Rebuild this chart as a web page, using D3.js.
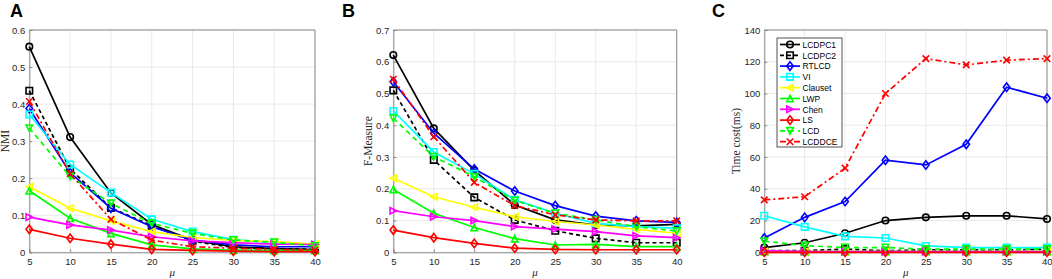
<!DOCTYPE html>
<html>
<head>
<meta charset="utf-8">
<script src="https://cdn.jsdelivr.net/npm/d3@7"></script>
<style>
body { margin: 0; background: #fff; }
svg { display: block; }
</style>
</head>
<body>
<svg id="chart" width="1052" height="279"></svg>
<script>
// mu values on the x axis
var mu = [5, 10, 15, 20, 25, 30, 35, 40];

var methods = ["LCDPC1", "LCDPC2", "RTLCD", "VI", "Clauset", "LWP", "Chen", "LS", "LCD", "LCDDCE"];

// panel A: NMI
var nmiLCDPC1 = [0.555, 0.311, 0.16, 0.075, 0.033, 0.015, 0.010, 0.007];
var nmiLCDPC2 = [0.436, 0.225, 0.12, 0.072, 0.030, 0.013, 0.010, 0.008];
var nmiRTLCD  = [0.388, 0.215, 0.119, 0.069, 0.033, 0.020, 0.015, 0.015];
var nmiVI     = [0.372, 0.237, 0.161, 0.089, 0.056, 0.034, 0.026, 0.020];
var nmiClauset= [0.177, 0.119, 0.085, 0.056, 0.040, 0.032, 0.029, 0.022];
var nmiLWP    = [0.166, 0.092, 0.051, 0.020, 0.009, 0.006, 0.005, 0.005];
var nmiChen   = [0.095, 0.074, 0.060, 0.042, 0.031, 0.026, 0.022, 0.021];
var nmiLS     = [0.062, 0.038, 0.022, 0.008, 0.005, 0.003, 0.002, 0.002];
var nmiLCD    = [0.335, 0.205, 0.132, 0.078, 0.051, 0.033, 0.027, 0.017];
var nmiLCDDCE = [0.407, 0.212, 0.089, 0.033, 0.015, 0.011, 0.008, 0.006];

// panel B: F-Measure
var fmLCDPC1 = [0.621, 0.390, 0.258, 0.149, 0.102, 0.086, 0.083, 0.088];
var fmLCDPC2 = [0.510, 0.291, 0.173, 0.102, 0.068, 0.044, 0.030, 0.030];
var fmRTLCD  = [0.537, 0.375, 0.262, 0.193, 0.147, 0.114, 0.099, 0.094];
var fmVI     = [0.445, 0.316, 0.247, 0.165, 0.123, 0.091, 0.081, 0.076];
var fmClauset= [0.233, 0.175, 0.142, 0.112, 0.097, 0.086, 0.072, 0.060];
var fmLWP    = [0.198, 0.123, 0.078, 0.043, 0.023, 0.025, 0.018, 0.018];
var fmChen   = [0.131, 0.112, 0.100, 0.081, 0.073, 0.065, 0.052, 0.046];
var fmLS     = [0.070, 0.046, 0.028, 0.013, 0.009, 0.008, 0.008, 0.008];
var fmLCD    = [0.422, 0.301, 0.238, 0.163, 0.123, 0.102, 0.081, 0.067];
var fmLCDDCE = [0.545, 0.364, 0.220, 0.147, 0.118, 0.102, 0.099, 0.099];

// panel C: time cost (ms)
var tcLCDPC1 = [3, 6, 12, 20, 22, 23, 23, 21];
var tcLCDPC2 = [1, 1, 2, 1, 1.5, 1.5, 1.5, 2];
var tcRTLCD  = [9, 22, 32, 58, 55, 68, 104, 97];
var tcVI     = [23, 16, 10, 9, 4, 3, 3, 3];
var tcClauset= [0.5, 0.5, 0.5, 0.5, 0.5, 0.5, 0.5, 0.5];
var tcLWP    = [0.5, 0.5, 0.5, 0.5, 0.5, 0.5, 0.5, 0.5];
var tcChen   = [1, 0.5, 0.5, 0.5, 0.5, 0.5, 0.5, 0.5];
var tcLS     = [0, 0, 0, 0, 0, 0, 0, 0];
var tcLCD    = [7, 4.2, 3, 3, 2, 2, 2, 2];
var tcLCDDCE = [33, 35, 53, 100, 122, 118, 121, 122];

var nmiTicks = [0, 0.1, 0.2, 0.3, 0.4, 0.5, 0.6];
var fmTicks  = [0, 0.1, 0.2, 0.3, 0.4, 0.5, 0.6, 0.7];
var tcTicks  = [0, 20, 40, 60, 80, 100, 120, 140];

var styles = {
  LCDPC1: {color: "#000000", dash: null,    marker: "circle"},
  LCDPC2: {color: "#000000", dash: "4,3",   marker: "square"},
  RTLCD:  {color: "#0000ff", dash: null,    marker: "diamond"},
  VI:     {color: "#00ffff", dash: null,    marker: "square"},
  Clauset:{color: "#ffff00", dash: null,    marker: "left"},
  LWP:    {color: "#00ff00", dash: null,    marker: "up"},
  Chen:   {color: "#ff00ff", dash: null,    marker: "right"},
  LS:     {color: "#ff0000", dash: null,    marker: "diamond"},
  LCD:    {color: "#00ff00", dash: "5,4",   marker: "down"},
  LCDDCE: {color: "#ff0000", dash: "6,3,2,3", marker: "x"}
};

var svg = d3.select("#chart");

function markerPath(type, s) {
  var h = s / 2;
  switch (type) {
    case "square": return "M" + -h + "," + -h + "H" + h + "V" + h + "H" + -h + "Z";
    case "diamond": return "M0," + (-h - 1) + "L" + h + ",0L0," + (h + 1) + "L" + -h + ",0Z";
    case "up": return "M0," + -h + "L" + h + "," + h + "L" + -h + "," + h + "Z";
    case "down": return "M0," + h + "L" + h + "," + -h + "L" + -h + "," + -h + "Z";
    case "left": return "M" + -h + ",0L" + h + "," + -h + "L" + h + "," + h + "Z";
    case "right": return "M" + h + ",0L" + -h + "," + -h + "L" + -h + "," + h + "Z";
    case "x": return "M" + -h + "," + -h + "L" + h + "," + h + "M" + -h + "," + h + "L" + h + "," + -h;
    default: return d3.symbol(d3.symbolCircle, s * s * 0.8)();
  }
}

function drawMarker(g, type, color, x, y) {
  g.append("path")
    .attr("transform", "translate(" + x + "," + y + ")")
    .attr("d", markerPath(type, 6.5))
    .attr("fill", "none")
    .attr("stroke", color)
    .attr("stroke-width", 1.6);
}

function panel(opt) {
  var x = d3.scaleLinear().domain([5, 40]).range([opt.x0, opt.x1]);
  var y = d3.scaleLinear().domain([0, opt.ymax]).range([252.3, 30]);
  var g = svg.append("g");

  // grid
  g.selectAll(".gx").data(mu).enter().append("line")
    .attr("x1", d => x(d)).attr("x2", d => x(d))
    .attr("y1", y.range()[0]).attr("y2", y.range()[1])
    .attr("stroke", "#e3e3e3").attr("stroke-width", 0.8);
  g.selectAll(".gy").data(opt.ticks).enter().append("line")
    .attr("x1", opt.x0).attr("x2", opt.x1)
    .attr("y1", d => y(d)).attr("y2", d => y(d))
    .attr("stroke", "#e3e3e3").attr("stroke-width", 0.8);

  // axes
  var ax = d3.axisBottom(x).tickValues(mu).tickSize(-3).tickPadding(6);
  var ay = d3.axisLeft(y).tickValues(opt.ticks).tickSize(-3).tickPadding(4)
    .tickFormat(d => d3.format("~g")(d));
  var gx = g.append("g").attr("transform", "translate(0," + y(0) + ")").call(ax);
  var gy = g.append("g").attr("transform", "translate(" + opt.x0 + ",0)").call(ay);
  [gx, gy].forEach(function (a) {
    a.select(".domain").attr("stroke", "#8a8a8a");
    a.selectAll(".tick line").attr("stroke", "#8a8a8a");
    a.selectAll("text").attr("fill", "#262626")
      .style("font-family", "'Liberation Sans', Arial, sans-serif").style("font-size", "9.5px");
  });
  if (opt.lastEnd) {
    gx.selectAll(".tick text").filter(d => d === 40).attr("text-anchor", "end").attr("dx", "5");
  }
  // box top and right
  g.append("line").attr("x1", opt.x0).attr("x2", opt.x1).attr("y1", 30).attr("y2", 30).attr("stroke", "#8a8a8a");
  g.append("line").attr("x1", opt.x1).attr("x2", opt.x1).attr("y1", 30).attr("y2", y(0)).attr("stroke", "#8a8a8a");

  // series
  var line = d3.line().x((d, i) => x(mu[i])).y(d => y(d));
  opt.series.forEach(function (vals, k) {
    var st = styles[methods[k]];
    g.append("path").attr("d", line(vals))
      .attr("fill", "none").attr("stroke", st.color).attr("stroke-width", 1.7)
      .attr("stroke-dasharray", st.dash);
    vals.forEach(function (v, i) { drawMarker(g, st.marker, st.color, x(mu[i]), y(v)); });
  });

  // labels
  g.append("text").attr("x", (opt.x0 + opt.x1) / 2).attr("y", 276)
    .attr("text-anchor", "middle")
    .style("font-family", "'Liberation Serif', 'Times New Roman', serif")
    .style("font-style", "italic").style("font-size", "11px").attr("fill", "#262626")
    .text("μ");
  g.append("text")
    .attr("transform", "translate(" + opt.ylx + "," + (30 + 252.3) / 2 + ") rotate(-90)")
    .attr("text-anchor", "middle")
    .style("font-family", "'Liberation Serif', 'Times New Roman', serif")
    .style("font-size", "11.5px").attr("fill", "#262626")
    .text(opt.ylabel);
  svg.append("text").attr("x", opt.lx).attr("y", 17)
    .style("font-family", "'Liberation Sans', Arial, sans-serif")
    .style("font-weight", "bold").style("font-size", "18px")
    .text(opt.letter);
  return g;
}

panel({x0: 29.3, x1: 315, ymax: 0.6, ticks: nmiTicks, ylabel: "NMI", ylx: 9, lx: 10, letter: "A",
  series: [nmiLCDPC1, nmiLCDPC2, nmiRTLCD, nmiVI, nmiClauset, nmiLWP, nmiChen, nmiLS, nmiLCD, nmiLCDDCE]});
panel({x0: 393.3, x1: 676.7, ymax: 0.7, ticks: fmTicks, ylabel: "F-Measure", ylx: 372, lx: 342, letter: "B",
  series: [fmLCDPC1, fmLCDPC2, fmRTLCD, fmVI, fmClauset, fmLWP, fmChen, fmLS, fmLCD, fmLCDDCE]});
var gc = panel({x0: 764.3, x1: 1047, ymax: 140, ticks: tcTicks, ylabel: "Time cost(ms)", ylx: 740, lx: 712, letter: "C",
  lastEnd: true,
  series: [tcLCDPC1, tcLCDPC2, tcRTLCD, tcVI, tcClauset, tcLWP, tcChen, tcLS, tcLCD, tcLCDDCE]});

// legend
var lg = gc.append("g");
lg.append("rect").attr("x", 777).attr("y", 38).attr("width", 65).attr("height", 109)
  .attr("fill", "#fff").attr("stroke", "#262626").attr("stroke-width", 0.8);
methods.forEach(function (m, i) {
  var st = styles[m], yy = 44.5 + i * 10.8;
  lg.append("line").attr("x1", 780).attr("x2", 800).attr("y1", yy).attr("y2", yy)
    .attr("stroke", st.color).attr("stroke-width", 1.7).attr("stroke-dasharray", st.dash);
  drawMarker(lg, st.marker, st.color, 790, yy);
  lg.append("text").attr("x", 802.5).attr("y", yy + 3.2)
    .style("font-family", "'Liberation Sans', Arial, sans-serif").style("font-size", "8.5px")
    .attr("fill", "#000").text(m);
});
</script>
</body>
</html>
